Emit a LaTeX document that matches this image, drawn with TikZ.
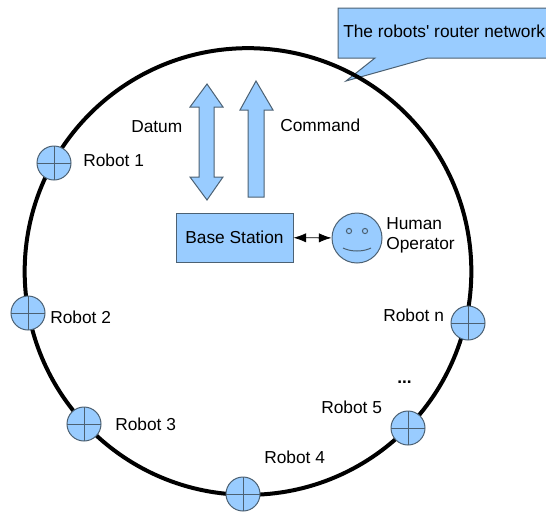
\documentclass[tikz,border=0pt]{standalone}
\usepackage{fontspec}
\setmainfont{Liberation Sans}
\usetikzlibrary{arrows.meta}
\definecolor{shapefill}{rgb}{0.6,0.8,1}
\definecolor{shapeline}{rgb}{0.3,0.38,0.45}
\tikzset{
  blueshape/.style={draw=shapeline,fill=shapefill,line width=0.75},
  robotnode/.style={blueshape,circle,inner sep=0pt,minimum size=25.5pt,
    path picture={\draw [shapeline,line width=0.75]
      (path picture bounding box.north) -- (path picture bounding box.south)
      (path picture bounding box.west) -- (path picture bounding box.east);}},
  textnode/.style={anchor=base west,inner sep=0pt,font=\fontsize{13}{15}\selectfont},
  linkarrow/.style={{Latex[length=9.5pt,width=7pt]}-{Latex[length=9.5pt,width=7pt]},line width=0.6},
}

\begin{document}
\begin{tikzpicture}[x=0.75pt,y=0.75pt,yscale=-1,xscale=1]
\useasboundingbox (0,0) rectangle (546,512);

%Callout
\draw [blueshape] (338,8) -- (552,8) -- (552,58) -- (428,58) -- (346,81) -- (375,58) -- (338,58) -- cycle ;

%Router ring
\draw (248,271.5) node (ring) [circle,draw,line width=3pt,inner sep=0pt,minimum size=335pt] {};

%Block arrows
\draw [blueshape] (207,84) -- (223,107) -- (214,107) -- (214,177) -- (223,177) -- (207,200) -- (190,177) -- (199,177) -- (199,107) -- (190,107) -- cycle ;
\draw [blueshape] (256,81) -- (273,110) -- (264,110) -- (264,197) -- (248,197) -- (248,110) -- (240,110) -- cycle ;

%Base station and operator
\draw (234.5,237.5) node (baseStation) [blueshape,inner sep=0pt,minimum width=87.75pt,minimum height=36.75pt,font=\fontsize{13}{15}\selectfont] {Base Station};
\draw (357,238) node (operator) [blueshape,circle,inner sep=0pt,minimum size=37.5pt] {};
\draw [shapeline,fill=none,line width=0.75] (349,231) circle (2.6) (365,231) circle (2.6);
\draw [shapeline,line width=0.75] (343,248) .. controls (351,252) and (363,252) .. (371,248);
\draw [linkarrow] (baseStation) -- (operator);

%Robots
\draw (54,163) node (robotA) [robotnode] {};
\draw (28,313) node (robotB) [robotnode] {};
\draw (84,424) node (robotC) [robotnode] {};
\draw (243,494) node (robotD) [robotnode] {};
\draw (408,428) node (robotE) [robotnode] {};
\draw (468,323) node (robotN) [robotnode] {};

% Text Node
\draw (343,37) node (calloutText) [textnode] {The robots\textquotesingle\ router network};
% Text Node
\draw (131,132) node (datumText) [textnode] {Datum};
% Text Node
\draw (280,131) node (commandText) [textnode] {Command};
% Text Node
\draw (386,229) node (humanText) [textnode] {Human};
% Text Node
\draw (386,249) node (operatorText) [textnode] {Operator};
% Text Node
\draw (83,166) node (robotAText) [textnode] {Robot 1};
% Text Node
\draw (50,323) node (robotBText) [textnode] {Robot 2};
% Text Node
\draw (115,430) node (robotCText) [textnode] {Robot 3};
% Text Node
\draw (264,463) node (robotDText) [textnode] {Robot 4};
% Text Node
\draw (321,413) node (robotEText) [textnode] {Robot 5};
% Text Node
\draw (383,321) node (robotNText) [textnode] {Robot n};
% Text Node
\draw (397,383) node (dotsText) [textnode] {\textbf{...}};

\end{tikzpicture}
\end{document}
